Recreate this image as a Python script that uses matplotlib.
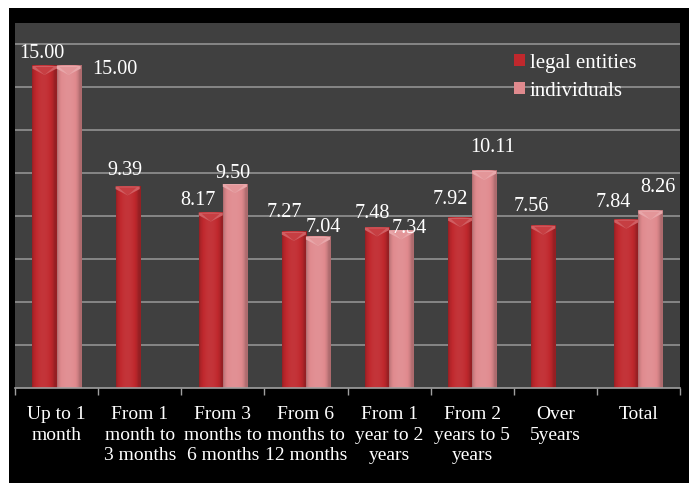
import numpy as np
import matplotlib.pyplot as plt
from matplotlib.patches import Rectangle, Polygon, Patch
from matplotlib.colors import to_rgb

# --- data ---
categories = ["Up to 1\nmonth", "From 1\nmonth to\n3 months", "From 3\nmonths to\n6 months",
              "From 6\nmonths to\n12 months", "From 1\nyear to 2\nyears", "From 2\nyears to 5\nyears",
              "Over\n5years", "Total"]
legal_entities = [15.00, 9.39, 8.17, 7.27, 7.48, 7.92, 7.56, 7.84]
individuals = [15.00, None, 9.50, 7.04, 7.34, 10.11, None, 8.26]
series_names = ["legal entities", "individuals"]

# label offsets (pixels, dx / dy above bar top) - mimic Excel placement
legal_off = [(-3, 13), (-3, 17), (-13, 13), (-10, 20), (-5, 15), (-10, 19), (-12, 20), (-13, 18)]
indiv_off = [(46, -3), (0, 0), (-2, 12), (5, 10), (8, 3), (8, 24), (0, 0), (7, 24)]

# --- style ---
bg_plot = "#404040"
grid_col = "#8c8c8c"
legal_col = "#c0282d"
indiv_col = "#e08a8e"
serif = ["Liberation Serif", "DejaVu Serif"]

fig = plt.figure(figsize=(6.89, 4.89), dpi=100)
fig.patch.set_facecolor("white")
fig.patches.append(Rectangle((9 / 689, 5 / 489), 1 - 9 / 689, 1 - 14 / 489,
                             transform=fig.transFigure, facecolor="black", edgecolor="none", zorder=-10))

ax = fig.add_axes([15 / 689, 100 / 489, 665 / 689, 365 / 489])
ax.set_facecolor(bg_plot)

for v in range(2, 17, 2):
    ax.axhline(v, color=grid_col, lw=1.3, zorder=1)

for s in ["top", "right", "left"]:
    ax.spines[s].set_visible(False)
ax.spines["bottom"].set_color("#a0a0a0")
ax.spines["bottom"].set_linewidth(1.2)

ax.set_yticks([])
ax.set_xticks(np.arange(len(categories)) + 0.5)
ax.set_xticklabels(categories, color="white", fontsize=14, family=serif, linespacing=1.3)
ax.tick_params(axis="x", which="major", length=0, pad=12)
ax.set_xticks(np.arange(len(categories) + 1), minor=True)
ax.tick_params(axis="x", which="minor", length=5, color="#a0a0a0", width=1)

bw = 0.29
px_per_unit = 365 / 17.0


def shade(c, f):
    r = np.array(to_rgb(c))
    if f < 1:
        return tuple(r * f)
    return tuple(r + (1 - r) * (f - 1))


def draw_bar(x0, h, col):
    # horizontal gradient: darker edges, lighter centre
    t = np.linspace(0, 1, 40)
    prof = 0.78 + 0.32 * np.sin(np.pi * np.clip(t * 1.1, 0, 1)) ** 0.6
    img = np.array([[shade(col, f) if f <= 1 else shade(col, 1 + (f - 1) * 0.6) for f in prof]])
    ax.imshow(img, extent=(x0, x0 + bw, 0, h), aspect="auto", zorder=2, interpolation="bilinear")
    # bevel on top
    bev = 9 / px_per_unit
    ax.add_patch(Polygon([(x0, h), (x0 + bw, h), (x0 + bw, h - bev * 0.3),
                          (x0 + bw / 2, h - bev), (x0, h - bev * 0.3)],
                         closed=True, facecolor=shade(col, 1.25), edgecolor="none", zorder=3))
    ax.add_patch(Polygon([(x0 + bw * 0.12, h - bev * 0.12), (x0 + bw * 0.88, h - bev * 0.12),
                          (x0 + bw / 2, h - bev)],
                         closed=True, facecolor=shade(col, 1.1), edgecolor="none", zorder=3))


for i, (lv, iv) in enumerate(zip(legal_entities, individuals)):
    c = i + 0.5
    if lv is not None:
        draw_bar(c - bw, lv, legal_col)
        dx, dy = legal_off[i]
        ax.annotate(f"{lv:.2f}", (c - bw / 2, lv), xytext=(dx * 0.72, dy * 0.72),
                    textcoords="offset points", ha="center", va="center",
                    color="white", fontsize=14.5, family=serif, zorder=5)
    if iv is not None:
        draw_bar(c, iv, indiv_col)
        dx, dy = indiv_off[i]
        ax.annotate(f"{iv:.2f}", (c + bw / 2, iv), xytext=(dx * 0.72, dy * 0.72),
                    textcoords="offset points", ha="center", va="center",
                    color="white", fontsize=14.5, family=serif, zorder=5)

ax.set_xlim(0, len(categories))
ax.set_ylim(0, 17)

handles = [Patch(facecolor=legal_col, edgecolor="none"), Patch(facecolor=indiv_col, edgecolor="none")]
leg = ax.legend(handles, series_names, loc="upper left", bbox_to_anchor=(0.735, 0.945),
                frameon=False, handlelength=0.5, handleheight=0.5, handletextpad=0.25,
                labelspacing=0.42, borderpad=0, prop={"family": serif, "size": 15})
for t in leg.get_texts():
    t.set_color("white")

fig.savefig("out.png", dpi=100, facecolor=fig.get_facecolor())
